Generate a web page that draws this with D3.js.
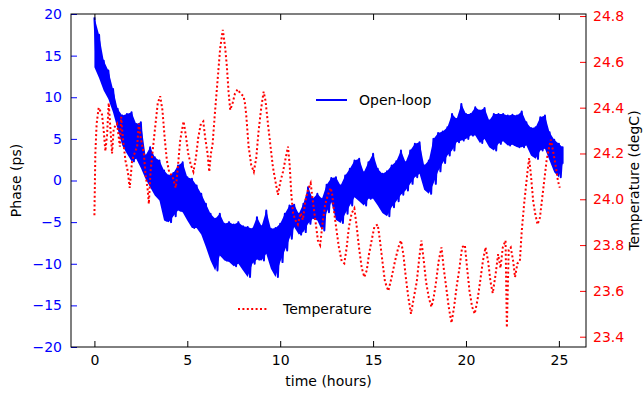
<!DOCTYPE html>
<html>
<head>
<meta charset="utf-8">
<script src="https://cdn.jsdelivr.net/npm/d3@7"></script>
<style>
body { margin: 0; background: #fff; }
svg text { font-family: "DejaVu Sans", sans-serif; font-size: 14px; }
</style>
</head>
<body>
<svg id="chart" width="643" height="395"></svg>
<script>
// phase band, every 0.25 h (upper and lower edge of the noisy trace)
var phaseTime = [0,0.25,0.5,0.75, 1,1.25,1.5,1.75, 2,2.25,2.5,2.75, 3,3.25,3.5,3.75,
    4,4.25,4.5,4.75, 5,5.25,5.5,5.75, 6,6.25,6.5,6.75, 7,7.25,7.5,7.75,
    8,8.25,8.5,8.75, 9,9.25,9.5,9.75, 10,10.25,10.5,10.75, 11,11.25,11.5,11.75,
    12,12.25,12.5,12.75, 13,13.25,13.5,13.75, 14,14.25,14.5,14.75, 15,15.25,15.5,15.75,
    16,16.25,16.5,16.75, 17,17.25,17.5,17.75, 18,18.25,18.5,18.75, 19,19.25,19.5,19.75,
    20,20.25,20.5,20.75, 21,21.25,21.5,21.75, 22,22.25,22.5,22.75, 23,23.25,23.5,23.75,
    24,24.25,24.5,24.75, 25,25.2];
var phaseHi = [19.6,17.5,14.4,13.2, 11.0,8.6,7.8,8.0, 8.2,6.8,7.0,3.0, 4.0,2.8,2.4,1.2,
    0.6,0.9,1.8,2.2, 0.4,0.2,-0.6,-1.6, -2.8,-4.0,-4.6,-4.0, -5.2,-5.0,-5.3,-5.0,
    -5.5,-5.6,-5.8,-4.4, -5.5,-3.6,-5.8,-5.7, -5.2,-4.0,-3.0,-2.9, -4.0,-2.8,-0.8,-2.2,
    -1.6,-2.2,-0.5,0.3, 0.4,-0.6,0.6,1.4, 2.4,2.6,1.0,2.2, 3.2,1.4,0.8,1.1,
    1.8,2.3,3.6,2.2, 3.6,4.4,4.6,1.8, 2.4,5.0,5.7,5.9, 6.4,8.0,7.4,9.2,
    8.0,8.0,8.8,8.4, 8.7,7.2,8.0,8.0, 8.0,7.8,7.9,7.8, 8.3,7.0,6.3,6.4,
    7.6,7.8,5.8,4.9, 4.4,4.0];
var phaseLo = [13.6,12.3,10.8,9.8, 8.2,6.2,4.2,3.2, 2.3,2.6,1.5,0.2, -0.8,-1.8,-2.4,-4.8,
    -5.0,-4.3,-3.6,-3.8, -4.8,-5.7,-5.7,-6.5, -8.0,-9.6,-10.8,-9.0, -9.6,-9.8,-10.3,-10.0,
    -10.8,-11.6,-10.0,-9.5, -9.6,-8.8,-10.6,-11.6, -9.8,-8.4,-7.0,-5.6, -6.5,-6.2,-5.2,-4.6,
    -4.8,-6.0,-3.8,-2.6, -4.7,-5.1,-4.0,-3.0, -2.0,-2.5,-3.0,-2.2, -2.2,-3.0,-3.9,-4.3,
    -3.2,-2.5,-1.7,-1.2, -0.4,0.4,0.8,-1.1, -1.6,-0.4,1.1,2.1, 3.0,3.6,4.6,4.8,
    5.0,5.4,5.4,4.5, 5.0,4.0,3.6,4.4, 4.7,4.2,4.3,4.0, 4.0,4.2,3.0,2.6,
    3.6,3.8,2.4,1.0, 0.4,2.0];

// temperature trace
var tempTime = [0,0.05,0.12,0.23,0.41,0.5,0.59,0.68,0.77,0.86,0.95,1.04,1.22,1.37,1.44,1.54,1.67,1.8,1.9,
    2.03,2.16,2.3,2.39,2.51,2.66,2.75,2.87,2.93,3.02,3.16,3.29,3.41,3.54,3.66,3.79,3.9,
    4.02,4.2,4.38,4.47,4.62,4.8,4.92,5.05,5.19,5.33,5.46,5.59,5.73,5.86,5.96,
    6.09,6.18,6.27,6.36,6.48,6.63,6.77,6.91,7.04,7.13,7.22,7.31,7.44,7.56,7.71,7.88,
    8.03,8.1,8.17,8.3,8.44,8.58,8.71,8.84,8.98,9.11,9.21,9.34,9.48,9.61,9.74,9.88,
    10.02,10.15,10.27,10.42,10.51,10.6,10.69,10.81,10.95,11.1,11.22,11.35,11.49,11.64,11.76,11.89,
    12.03,12.15,12.3,12.43,12.57,12.72,12.8,12.91,13.04,13.16,13.31,13.45,13.58,13.7,13.85,13.99,
    14.12,14.24,14.39,14.53,14.66,14.78,14.92,15.07,15.25,15.37,15.5,15.64,15.82,
    16.0,16.18,16.36,16.5,16.63,16.76,16.9,17.04,17.17,17.35,17.48,17.6,17.73,17.85,
    18.0,18.14,18.26,18.39,18.53,18.68,18.8,18.93,19.07,19.22,19.36,19.5,19.65,19.79,19.94,
    20.06,20.19,20.33,20.47,20.62,20.76,20.91,21.05,21.19,21.32,21.44,21.59,21.73,21.86,21.98,
    22.13,22.2,22.3,22.41,22.54,22.64,22.77,22.9,23.0,23.13,23.22,23.31,23.4,23.49,23.62,23.72,23.85,23.98,
    24.08,24.21,24.34,24.48,24.57,24.69,24.84,24.95,25.05];
var tempVal = [23.93,24.20,24.33,24.40,24.37,24.30,24.21,24.28,24.42,24.31,24.20,24.31,24.33,24.23,24.36,24.26,24.17,24.12,24.05,
    24.17,24.20,24.23,24.33,24.26,24.20,24.11,24.04,23.98,24.12,24.23,24.33,24.42,24.45,24.39,24.26,24.17,
    24.12,24.10,24.05,24.12,24.26,24.34,24.28,24.20,24.15,24.12,24.18,24.27,24.33,24.34,24.27,
    24.20,24.12,24.20,24.24,24.37,24.52,24.66,24.74,24.66,24.58,24.47,24.39,24.42,24.46,24.48,24.46,
    24.45,24.42,24.37,24.23,24.15,24.12,24.18,24.30,24.40,24.47,24.43,24.33,24.23,24.14,24.08,24.02,
    24.08,24.12,24.17,24.23,24.15,24.02,23.94,23.91,23.89,23.94,23.91,23.99,24.04,24.07,23.99,23.91,
    23.82,23.80,23.91,23.98,24.02,24.05,24.02,23.94,23.86,23.79,23.73,23.72,23.79,23.88,23.94,23.96,
    23.88,23.79,23.70,23.66,23.69,23.76,23.82,23.88,23.89,23.82,23.73,23.64,23.60,
    23.66,23.73,23.79,23.82,23.76,23.66,23.57,23.50,23.56,23.64,23.74,23.82,23.73,23.64,
    23.57,23.53,23.57,23.64,23.73,23.79,23.70,23.62,23.53,23.46,23.53,23.62,23.70,23.79,23.80,
    23.70,23.60,23.53,23.50,23.56,23.64,23.73,23.79,23.73,23.64,23.59,23.67,23.76,23.70,23.79,
    23.82,23.44,23.78,23.79,23.73,23.66,23.72,23.73,23.86,23.98,24.05,24.12,24.18,24.11,23.99,23.94,23.89,23.92,
    23.99,24.08,24.17,24.23,24.26,24.21,24.14,24.08,24.05];

var timeTicks = [0, 5, 10, 15, 20, 25];
var phaseTicks = [-20, -15, -10, -5, 0, 5, 10, 15, 20];
var tempTicks = [23.4, 23.6, 23.8, 24.0, 24.2, 24.4, 24.6, 24.8];

var svg = d3.select("#chart");
var plotL = 71, plotR = 586, plotT = 14, plotB = 347;

var x = d3.scaleLinear().domain([-1.26, 26.46]).range([plotL, plotR]);
var yPhase = d3.scaleLinear().domain([-20, 20]).range([plotB, plotT]);
var yTemp = d3.scaleLinear().domain([23.355, 24.809]).range([plotB, plotT]);

svg.append("defs").append("clipPath").attr("id", "plotclip")
    .append("rect").attr("x", plotL).attr("y", plotT)
    .attr("width", plotR - plotL).attr("height", plotB - plotT);

// zigzag between upper and lower edge gives the jagged noisy edges
var phasePts = [];
phaseTime.forEach(function(t, i) {
    var next = i < phaseTime.length - 1 ? phaseTime[i + 1] : t;
    phasePts.push([t, phaseHi[i]]);
    phasePts.push([(t + next) / 2, phaseLo[i]]);
});

var phaseLine = d3.line().x(function(d) { return x(d[0]); }).y(function(d) { return yPhase(d[1]); });
var tempLine = d3.line().x(function(d) { return x(d[0]); }).y(function(d) { return yTemp(d[1]); });
var phaseBand = d3.area()
    .x(function(d, i) { return x(phaseTime[i]); })
    .y0(function(d, i) { return yPhase(phaseLo[i]); })
    .y1(function(d, i) { return yPhase(phaseHi[i]); });

var plot = svg.append("g").attr("clip-path", "url(#plotclip)");

// the trace is so dense it reads as a solid band
plot.append("path")
    .datum(phaseTime)
    .attr("d", phaseBand)
    .attr("fill", "#0000ff");

plot.append("path")
    .datum(phasePts)
    .attr("d", phaseLine)
    .attr("fill", "none")
    .attr("stroke", "#0000ff")
    .attr("stroke-width", 2)
    .attr("stroke-linejoin", "round");

plot.append("path")
    .datum(tempTime.map(function(t, i) { return [t, tempVal[i]]; }))
    .attr("d", tempLine)
    .attr("fill", "none")
    .attr("stroke", "#ff0000")
    .attr("stroke-width", 2)
    .attr("stroke-dasharray", "2,2.4");

// axes, ticks pointing inward
var xb = svg.append("g").attr("transform", "translate(0," + plotB + ")")
    .call(d3.axisBottom(x).tickValues(timeTicks).tickSizeInner(-6).tickSizeOuter(0).tickPadding(8));
var xt = svg.append("g").attr("transform", "translate(0," + plotT + ")")
    .call(d3.axisTop(x).tickValues(timeTicks).tickSizeInner(-6).tickSizeOuter(0).tickFormat(""));
var yl = svg.append("g").attr("transform", "translate(" + plotL + ",0)")
    .call(d3.axisLeft(yPhase).tickValues(phaseTicks).tickSizeInner(-6).tickSizeOuter(0).tickPadding(9));
var yr = svg.append("g").attr("transform", "translate(" + plotR + ",0)")
    .call(d3.axisRight(yTemp).tickValues(tempTicks).tickSizeInner(-6).tickSizeOuter(0).tickPadding(7)
        .tickFormat(d3.format(".1f")));

[xb, xt, yl, yr].forEach(function(g) {
    g.select(".domain").remove();
    g.selectAll("text").attr("font-family", "DejaVu Sans").attr("font-size", 14);
});
xb.selectAll("text").attr("fill", "#000");
xb.selectAll("line").attr("stroke", "#000");
xt.selectAll("line").attr("stroke", "#000");
yl.selectAll("line").attr("stroke", "#0000ff");
yl.selectAll("text").attr("fill", "#0000ff");
yr.selectAll("line").attr("stroke", "#ff0000");
yr.selectAll("text").attr("fill", "#ff0000");

svg.append("rect")
    .attr("x", plotL).attr("y", plotT)
    .attr("width", plotR - plotL).attr("height", plotB - plotT)
    .attr("fill", "none").attr("stroke", "#000").attr("stroke-width", 1);

// axis labels
svg.append("text").attr("x", (plotL + plotR) / 2).attr("y", 386)
    .attr("text-anchor", "middle").text("time (hours)");
svg.append("text").attr("transform", "translate(21," + (plotT + plotB) / 2 + ") rotate(-90)")
    .attr("text-anchor", "middle").text("Phase (ps)");
svg.append("text").attr("transform", "translate(639," + (plotT + plotB) / 2 + ") rotate(-90)")
    .attr("text-anchor", "middle").text("Temperature (degC)");

// legends
svg.append("line").attr("x1", 316).attr("x2", 347).attr("y1", 100).attr("y2", 100)
    .attr("stroke", "#0000ff").attr("stroke-width", 2);
svg.append("text").attr("x", 359).attr("y", 105).text("Open-loop");
svg.append("line").attr("x1", 238).attr("x2", 268).attr("y1", 309).attr("y2", 309)
    .attr("stroke", "#ff0000").attr("stroke-width", 2).attr("stroke-dasharray", "2,2.4");
svg.append("text").attr("x", 283).attr("y", 314).text("Temperature");
</script>
</body>
</html>
